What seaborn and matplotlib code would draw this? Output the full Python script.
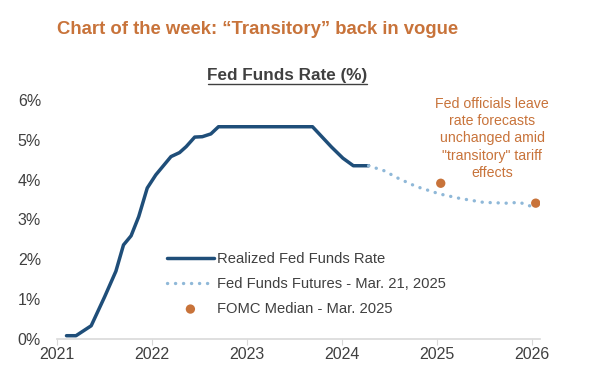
import numpy as np
import pandas as pd
import matplotlib.pyplot as plt
import seaborn as sns

# values (x as fractional year, y in %)
realized_x = [2021.10, 2021.20, 2021.36, 2021.50, 2021.62, 2021.70, 2021.78, 2021.86, 2021.95,
              2022.04, 2022.20, 2022.29, 2022.36, 2022.45, 2022.53, 2022.62, 2022.70,
              2023.69, 2023.89, 2024.01, 2024.12, 2024.28]
realized_y = [0.08, 0.08, 0.33, 1.05, 1.70, 2.36, 2.59, 3.07, 3.79,
              4.12, 4.58, 4.68, 4.83, 5.07, 5.08, 5.15, 5.33,
              5.33, 4.82, 4.54, 4.35, 4.35]

futures_x = [2024.28, 2024.45, 2024.57, 2024.78, 2025.03, 2025.24, 2025.49, 2025.73, 2025.87, 2025.98]
futures_y = [4.35, 4.22, 4.06, 3.83, 3.64, 3.53, 3.43, 3.41, 3.43, 3.34]

fomc_x = [2025.04, 2026.04]
fomc_y = [3.91, 3.41]

years = [2021, 2022, 2023, 2024, 2025, 2026]
y_ticks = [0, 1, 2, 3, 4, 5, 6]

navy = "#1f4e79"
light = "#8fb8d8"
orange = "#c8733a"
grey = "#404040"

sns.set_style("white")
plt.rcParams['font.family'] = ['Liberation Sans', 'DejaVu Sans']

fig = plt.figure(figsize=(6, 3.72), dpi=100)
ax = fig.add_axes([0.095, 0.089, 0.805, 0.642])

realized = pd.DataFrame({"x": realized_x, "y": realized_y})
futures = pd.DataFrame({"x": futures_x, "y": futures_y})
fomc = pd.DataFrame({"x": fomc_x, "y": fomc_y})

sns.lineplot(data=realized, x="x", y="y", ax=ax, color=navy, linewidth=2.5,
             label="Realized Fed Funds Rate", sort=False)
sns.lineplot(data=futures, x="x", y="y", ax=ax, color=light, linewidth=2.4,
             label="Fed Funds Futures - Mar. 21, 2025", sort=False)
# round dots for the futures curve
fut_line = ax.lines[-1]
fut_line.set_linestyle((0, (0.05, 2.35)))
fut_line.set_dash_capstyle("round")

sns.scatterplot(data=fomc, x="x", y="y", ax=ax, color=orange, s=45, edgecolor="none",
                label="FOMC Median - Mar. 2025", zorder=5)

ax.set_xlim(2021, 2026.085)
ax.set_ylim(0, 6)
ax.set_xticks(years)
ax.set_xticklabels([str(y) for y in years])
ax.set_yticks(y_ticks)
ax.set_yticklabels([f"{v}%" for v in y_ticks])
ax.set_xlabel("")
ax.set_ylabel("")

for s in ["top", "right", "left"]:
    ax.spines[s].set_visible(False)
ax.spines["bottom"].set_color("#d9d9d9")
ax.spines["bottom"].set_linewidth(1.2)
ax.tick_params(axis="x", which="both", bottom=True, length=4, color="#d9d9d9",
               labelsize=11.5, labelcolor=grey, pad=2)
ax.tick_params(axis="y", left=False, labelsize=11.5, labelcolor=grey, pad=8)

leg = ax.legend(loc="upper left", bbox_to_anchor=(0.2, 0.42), frameon=False,
                fontsize=10.6, handlelength=3.2, handletextpad=0.2, labelspacing=0.75,
                labelcolor=grey)

ax.text(2025.58, 6.08, "Fed officials leave\nrate forecasts\nunchanged amid\n\"transitory\" tariff\neffects",
        ha="center", va="top", fontsize=10.2, color=orange, linespacing=1.3)

fig.text(0.095, 0.922, "Chart of the week: \u201cTransitory\u201d back in vogue",
         fontsize=13.3, fontweight="bold", color=orange, ha="left", va="center")
fig.text(0.479, 0.797, "Fed Funds Rate (%)", fontsize=12.3, fontweight="bold", color=grey,
         ha="center", va="center")
# underline for the chart title
fig.add_artist(plt.Line2D([0.347, 0.611], [0.775, 0.775], color=grey, linewidth=1,
                          transform=fig.transFigure))

fig.savefig("out.png", dpi=100)
